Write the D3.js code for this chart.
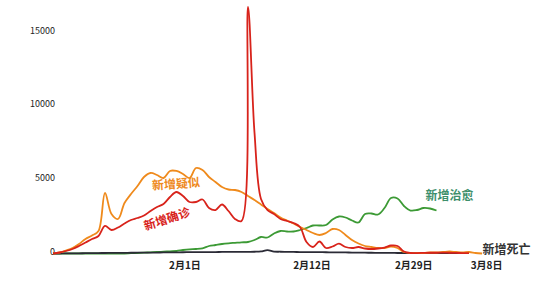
<!DOCTYPE html>
<html>
<head>
<meta charset="utf-8">
<script src="https://cdn.jsdelivr.net/npm/d3@7"></script>
<style>
  body { margin: 0; background: #fff; }
  svg { display: block; font-family: "Noto Sans CJK SC", "Noto Sans", sans-serif; }
</style>
</head>
<body>
<svg id="chart" width="557" height="284"></svg>
<script>
// data, one value per step on the x axis
const suspected = [0, 68, 204, 373, 645, 984, 1222, 1527, 4106, 2681, 2342, 3427, 4038, 4581, 5192, 5464,
  5328, 5124, 5600, 5600, 5396, 5124, 5803, 5667, 5192, 4853, 4513, 4344, 4310, 4174, 3902, 3631, 3326,
  3020, 2749, 2443, 2240, 2036, 1799, 1595, 1391, 1256, 1391, 1663, 1595, 1256, 916, 679, 509, 441, 373,
  373, 475, 373, 102, 34, 34, 34, 68, 68, 102, 136, 102, 68, 102, 34, 0];
const confirmed = [0, 68, 170, 305, 509, 747, 984, 1188, 1867, 1595, 1765, 2036, 2274, 2409, 2579, 2884,
  3156, 3360, 3835, 4174, 3902, 3495, 3495, 3665, 3088, 2952, 3326, 2884, 2342, 2206, 16730, 8200, 3699,
  2952, 2681, 2342, 2206, 2070, 1799, 780, 441, 814, 373, 475, 665, 441, 373, 441, 339, 305, 339, 407,
  543, 509, 136, 34, 30, 40, 50, 50, 60, 50, 40, 30, 20];
const cured = [0, 0, 0, 0, 0, 0, 0, 0, 0, 0, 0, 0, 20, 34, 54, 81, 102, 122, 149, 170, 238, 285, 305, 353,
  509, 577, 645, 692, 726, 760, 781, 916, 1120, 1086, 1357, 1527, 1493, 1493, 1595, 1731, 1900, 1900,
  1934, 2308, 2511, 2443, 2240, 2104, 2681, 2715, 2647, 3088, 3767, 3733, 3224, 2918, 2952, 3088, 3054, 2918];
const deaths = [0, 0, 5, 10, 15, 20, 25, 30, 35, 40, 45, 45, 50, 55, 60, 65, 65, 70, 75, 80, 85, 90, 90, 95,
  100, 100, 105, 105, 110, 110, 115, 120, 140, 230, 130, 120, 110, 105, 100, 95, 90, 90, 85, 80, 75, 70,
  65, 60, 55, 50, 45, 45, 40, 35, 35, 30, 30, 30, 28, 27, 25, 25, 22, 20];

const dateLabels = ["2月1日", "2月12日", "2月29日", "3月8日"];
const datePos = [20.3, 39.85, 55.5, 66.7];
const yTicks = [0, 5000, 10000, 15000];

const svg = d3.select("#chart");

const x = d3.scaleLinear().domain([0, 70]).range([53, 508]);
const y = d3.scaleLinear().domain([0, 15000]).range([253.5, 32.5]);

// y labels
svg.append("g")
  .selectAll("text")
  .data(yTicks)
  .join("text")
  .attr("x", 55)
  .attr("y", d => y(d) - 2)
  .attr("dy", "0.35em")
  .attr("text-anchor", "end")
  .attr("font-size", 9)
  .attr("fill", "#222")
  .text(d => d);

// x labels
svg.append("g")
  .selectAll("text")
  .data(dateLabels)
  .join("text")
  .attr("x", (d, i) => x(datePos[i]))
  .attr("y", 265.5)
  .attr("dy", "0.35em")
  .attr("text-anchor", "middle")
  .attr("font-size", 10)
  .attr("font-weight", "bold")
  .attr("fill", "#222")
  .text(d => d);

const line = d3.line()
  .x((d, i) => x(i))
  .y(d => y(d))
  .curve(d3.curveCatmullRom.alpha(0.5));

const series = [
  { data: cured, color: "#3c9a35" },
  { data: deaths, color: "#2b2b36" },
  { data: suspected, color: "#ef8a1c" },
  { data: confirmed, color: "#d8231b" }
];

svg.append("g")
  .selectAll("path")
  .data(series)
  .join("path")
  .attr("fill", "none")
  .attr("stroke", d => d.color)
  .attr("stroke-width", 1.8)
  .attr("stroke-linejoin", "round")
  .attr("d", d => line(d.data));

// series names
const names = [
  { text: "新增疑似", x: 176, y: 184, rot: -4, color: "#ee8a1e" },
  { text: "新增确诊", x: 167, y: 219, rot: -18, color: "#d8231b" },
  { text: "新增治愈", x: 449.5, y: 196, rot: 0, color: "#3d8f6b" },
  { text: "新增死亡", x: 506.5, y: 250, rot: 0, color: "#333" }
];

svg.append("g")
  .selectAll("text")
  .data(names)
  .join("text")
  .attr("transform", d => `translate(${d.x},${d.y}) rotate(${d.rot})`)
  .attr("dy", "0.35em")
  .attr("text-anchor", "middle")
  .attr("font-size", 12)
  .attr("font-weight", "bold")
  .attr("fill", d => d.color)
  .text(d => d.text);
</script>
</body>
</html>
